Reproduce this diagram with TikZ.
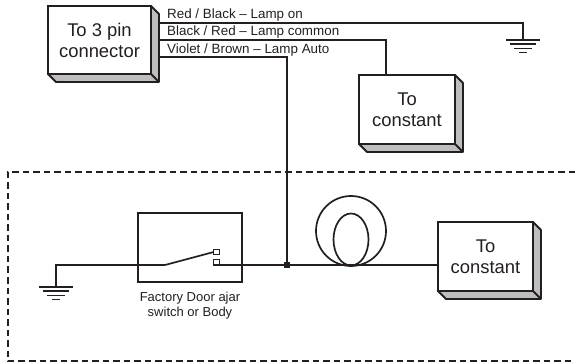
\documentclass[tikz,border=0pt]{standalone}
\usepackage{fontspec}
\setmainfont{Liberation Sans}
\usetikzlibrary{calc,positioning}
\definecolor{inkblk}{RGB}{35,31,32}
\definecolor{shadegray}{RGB}{190,190,190}
\tikzset{
  wire/.style={draw=inkblk, line width=1.7pt},
  dashline/.style={draw=inkblk, line width=1.8pt, dash pattern=on 6.5pt off 4pt},
  frontbox/.style={draw=inkblk, line width=1.8pt, fill=white, inner sep=0pt, outer sep=0pt, align=center, font=\fontsize{18.4}{21}\selectfont, text=inkblk},
  tinylabel/.style={inner sep=0pt, align=center, font=\fontsize{13.4}{15}\selectfont, text=inkblk},
  contact/.style={draw=inkblk, line width=1.4pt, fill=white, minimum size=5.5pt, inner sep=0pt, outer sep=0pt}
}
% shaded side and bottom of a box
\newcommand{\boxdepth}[1]{
  \draw[draw=inkblk, line width=1.8pt, fill=shadegray, line join=round]
    (#1.north east)--($(#1.north east)+(8,8)$)--($(#1.south east)+(8,8)$)--($(#1.south west)+(8,8)$)
    --(#1.south west)--(#1.south east)--cycle;
  \draw[draw=inkblk, line width=1.8pt] (#1.south east)--($(#1.south east)+(8,8)$);
}
% ground symbol hanging below a named coordinate
\newcommand{\groundsym}[1]{
  \draw[wire] ($(#1)+(-17,0)$)--($(#1)+(17,0)$);
  \draw[wire] ($(#1)+(-13,4.2)$)--($(#1)+(13,4.2)$);
  \draw[wire] ($(#1)+(-9,8.5)$)--($(#1)+(9,8.5)$);
  \draw[wire] ($(#1)+(-4,12.5)$)--($(#1)+(4,12.5)$);
}
\begin{document}
\begin{tikzpicture}[x=1pt,y=-1pt]
  \useasboundingbox (0,0) rectangle (575,363);
  % dashed frame
  \draw[dashline] (575,172)--(8,172)--(8,361)--(575,361);
  % boxes
  \node[frontbox, minimum width=103pt, minimum height=68pt] (pin) at (99.5,40) {To 3 pin\\connector};
  \node[frontbox, minimum width=96pt, minimum height=69pt] (consta) at (407,109.5) {To\\constant};
  \node[frontbox, minimum width=95pt, minimum height=69pt] (constb) at (485.5,256.5) {To\\constant};
  \boxdepth{pin}
  \boxdepth{consta}
  \boxdepth{constb}
  % wires at the top
  \coordinate (redout) at (160,23);
  \coordinate (blackout) at (160,40);
  \coordinate (violetout) at (160,57);
  \coordinate (blackin) at (386,75);
  \coordinate (gndtop) at (523,40);
  \coordinate (gndlow) at (56,287);
  \coordinate (junct) at (287,265);
  \draw[wire] (redout)-|(gndtop);
  \draw[wire] (blackout)-|(blackin);
  \draw[wire] (violetout)-|(junct);
  \groundsym{gndtop}
  \groundsym{gndlow}
  \node[tinylabel, anchor=base west] (redtxt) at (167,18.5) {Red / Black -- Lamp on};
  \node[tinylabel, anchor=base west] (blacktxt) at (167,36) {Black / Red -- Lamp common};
  \node[tinylabel, anchor=base west] (violettxt) at (167,54) {Violet / Brown -- Lamp Auto};
  % door switch
  \node[draw=inkblk, line width=1.5pt, minimum width=104pt, minimum height=69pt, inner sep=0pt, outer sep=0pt] (doorsw) at (190,247.5) {};
  \coordinate (hinge) at (165,265);
  \node[contact] (upper) at (216.5,252) {};
  \node[contact] (lower) at (216.5,262.3) {};
  \draw[wire] (gndlow)|-(hinge)--(upper.west);
  \draw[wire] (lower.south)--(lower.south-|junct);
  \node[tinylabel, font=\fontsize{13}{15}\selectfont] (doortxt) at (190,305.5) {Factory Door ajar\\switch or Body};
  \node[fill=inkblk, minimum size=6pt, inner sep=0pt] (dot) at (junct) {};
  % coil
  \draw[wire] (dot)--(constb.west|-dot);
  \draw[wire] (351,231) circle (35);
  \draw[wire] (351,239.5) ellipse (17.5 and 26);
\end{tikzpicture}
\end{document}
